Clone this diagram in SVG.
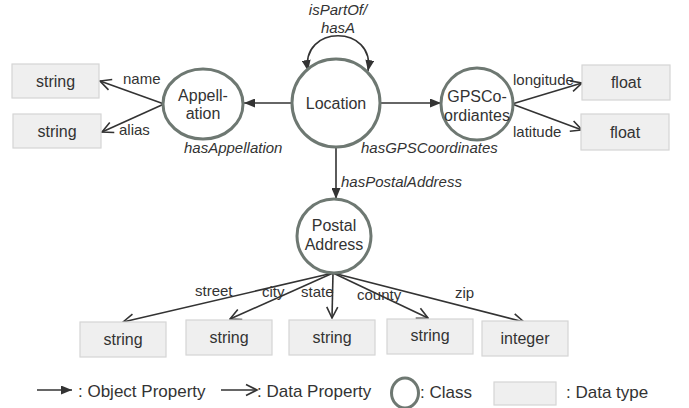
<svg xmlns="http://www.w3.org/2000/svg" width="689" height="408" viewBox="0 0 689 408">
  <style>
    .cls { fill: #ffffff; stroke: #6e7872; stroke-width: 3; }
    .dt { fill: #efefef; stroke: #d4d4d4; stroke-width: 1.2; }
    .node { font-family: "Liberation Sans", Arial, sans-serif; font-size: 16px; fill: #333333; text-anchor: middle; }
    .lbl { font-family: "Liberation Sans", Arial, sans-serif; font-size: 15px; fill: #333333; }
    .it { font-style: italic; }
    .leg { font-family: "Liberation Sans", Arial, sans-serif; font-size: 17px; fill: #333333; }
    .obj { fill: none; stroke: #333333; stroke-width: 1.6; marker-end: url(#filled); }
    .dat { fill: none; stroke: #333333; stroke-width: 1.6; marker-end: url(#open); }
  </style>
  <defs>
    <marker id="filled" viewBox="0 0 11 9" refX="11" refY="4.5" markerWidth="11" markerHeight="9" markerUnits="userSpaceOnUse" orient="auto-start-reverse">
      <path d="M0,0 L11,4.5 L0,9 z" fill="#333333"/>
    </marker>
    <marker id="open" viewBox="0 0 14 14" refX="12.5" refY="7" markerWidth="14" markerHeight="14" markerUnits="userSpaceOnUse" orient="auto">
      <path d="M1.5,1.5 L12.5,7 L1.5,12.5" fill="none" stroke="#333333" stroke-width="1.6"/>
    </marker>
  </defs>

  <!-- connectors -->
  <g id="connectors">
    <path class="obj" d="M308,71 C300,24 376,24 368,71" marker-start="url(#filled)"/>
    <line class="obj" x1="293" y1="103" x2="244" y2="103"/>
    <line class="obj" x1="380" y1="103" x2="441" y2="103"/>
    <line class="obj" x1="336" y1="147" x2="336" y2="199"/>
    <line class="dat" x1="164" y1="104" x2="100" y2="81"/>
    <line class="dat" x1="164" y1="104" x2="102" y2="132"/>
    <line class="dat" x1="512" y1="104" x2="582" y2="83"/>
    <line class="dat" x1="512" y1="104" x2="582" y2="130"/>
    <line class="dat" x1="333" y1="273" x2="123" y2="322"/>
    <line class="dat" x1="333" y1="273" x2="230" y2="319"/>
    <line class="dat" x1="333" y1="273" x2="332" y2="318"/>
    <line class="dat" x1="333" y1="273" x2="428" y2="318"/>
    <line class="dat" x1="333" y1="273" x2="524" y2="322"/>
  </g>

  <!-- edge labels -->
  <g id="edge-labels">
    <text class="lbl it" x="338" y="15" text-anchor="middle">isPartOf/</text>
    <text class="lbl it" x="338" y="33" text-anchor="middle">hasA</text>
    <text class="lbl" x="123" y="84">name</text>
    <text class="lbl" x="119" y="135">alias</text>
    <text class="lbl it" x="184" y="153">hasAppellation</text>
    <text class="lbl it" x="361" y="153">hasGPSCoordinates</text>
    <text class="lbl" x="513" y="85">longitude</text>
    <text class="lbl" x="513" y="137">latitude</text>
    <text class="lbl it" x="341" y="187">hasPostalAddress</text>
    <text class="lbl" x="195" y="296">street</text>
    <text class="lbl" x="262" y="297">city</text>
    <text class="lbl" x="301" y="297">state</text>
    <text class="lbl" x="357" y="300">county</text>
    <text class="lbl" x="455" y="298">zip</text>
  </g>

  <!-- classes -->
  <g id="location">
    <circle class="cls" cx="336" cy="103" r="44"/>
    <text class="node" x="336" y="109">Location</text>
  </g>
  <g id="appellation">
    <ellipse class="cls" cx="203" cy="104" rx="40" ry="35"/>
    <text class="node" x="203" y="101">Appell-</text>
    <text class="node" x="203" y="119">ation</text>
  </g>
  <g id="gps-coordinates">
    <circle class="cls" cx="477" cy="104" r="36"/>
    <text class="node" x="477" y="102" font-size="17">GPSCo-</text>
    <text class="node" x="477" y="121" font-size="17">ordiantes</text>
  </g>
  <g id="postal-address">
    <circle class="cls" cx="334" cy="236" r="37"/>
    <text class="node" x="334" y="231">Postal</text>
    <text class="node" x="334" y="250">Address</text>
  </g>

  <!-- data types -->
  <g id="dt-name">
    <rect class="dt" x="12" y="64" width="87" height="34"/>
    <text class="node" x="55.5" y="86.5">string</text>
  </g>
  <g id="dt-alias">
    <rect class="dt" x="13" y="114" width="88" height="34"/>
    <text class="node" x="57" y="136.5">string</text>
  </g>
  <g id="dt-longitude">
    <rect class="dt" x="582" y="65" width="88" height="35"/>
    <text class="node" x="626" y="88">float</text>
  </g>
  <g id="dt-latitude">
    <rect class="dt" x="581" y="114" width="88" height="36"/>
    <text class="node" x="625" y="137.5">float</text>
  </g>
  <g id="dt-street">
    <rect class="dt" x="80" y="322" width="86" height="35"/>
    <text class="node" x="123" y="345">string</text>
  </g>
  <g id="dt-city">
    <rect class="dt" x="186" y="320" width="86" height="35"/>
    <text class="node" x="229" y="343">string</text>
  </g>
  <g id="dt-state">
    <rect class="dt" x="289" y="320" width="86" height="35"/>
    <text class="node" x="332" y="343">string</text>
  </g>
  <g id="dt-county">
    <rect class="dt" x="387" y="319" width="86" height="35"/>
    <text class="node" x="430" y="341">string</text>
  </g>
  <g id="dt-zip">
    <rect class="dt" x="482" y="321" width="86" height="35"/>
    <text class="node" x="525" y="344">integer</text>
  </g>

  <!-- legend -->
  <g id="legend">
    <line class="obj" x1="37" y1="390" x2="72" y2="390"/>
    <text class="leg" x="78" y="397">: Object Property</text>
    <line class="dat" x1="221" y1="390" x2="257" y2="390"/>
    <text class="leg" x="257" y="397">: Data Property</text>
    <ellipse class="cls" cx="405" cy="393" rx="13.5" ry="15"/>
    <text class="leg" x="420" y="398">: Class</text>
    <rect class="dt" x="494" y="382" width="62" height="23"/>
    <text class="leg" x="566" y="398">: Data type</text>
  </g>
</svg>
